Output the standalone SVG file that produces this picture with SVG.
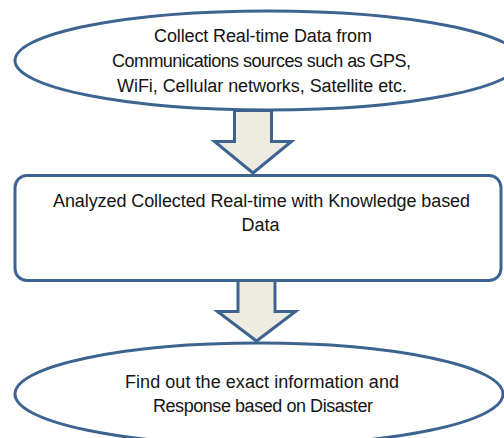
<svg xmlns="http://www.w3.org/2000/svg" width="504" height="438" viewBox="0 0 504 438">
  <style>
    .shape { fill: #ffffff; stroke: #3d6491; stroke-width: 3; }
    .arrow { fill: #eeece1; stroke: #3d6491; stroke-width: 3; stroke-linejoin: miter; }
    .label { font-family: "Liberation Sans", Arial, sans-serif; font-size: 18px; fill: #141414; text-anchor: middle; }
  </style>
  <rect width="504" height="438" fill="#ffffff"/>

  <!-- step 1: data collection -->
  <g id="collect">
    <ellipse class="shape" cx="268" cy="60.5" rx="253" ry="49.5"/>
    <text class="label" x="263" y="42" textLength="218">Collect Real-time Data from</text>
    <text class="label" x="261.5" y="67" textLength="299">Communications sources such as GPS,</text>
    <text class="label" x="262" y="92" textLength="290">WiFi, Cellular networks, Satellite etc.</text>
  </g>

  <!-- step 2: analysis -->
  <g id="analyze">
    <rect class="shape" x="15" y="175.5" width="486" height="105" rx="12" ry="12"/>
    <text class="label" x="261.5" y="207" textLength="417">Analyzed Collected Real-time with Knowledge based</text>
    <text class="label" x="260.5" y="231">Data</text>
  </g>

  <!-- step 3: response -->
  <g id="respond">
    <ellipse class="shape" cx="259" cy="394" rx="244" ry="51"/>
    <text class="label" x="262" y="388" textLength="274">Find out the exact information and</text>
    <text class="label" x="263" y="412" textLength="220">Response based on Disaster</text>
  </g>

  <!-- block arrows between the steps -->
  <g id="connectors">
    <polygon class="arrow" points="234.5,110.5 271.5,110.5 271.5,141.5 291.5,141.5 253,173 214.5,141.5 234.5,141.5"/>
    <polygon class="arrow" points="238,280.5 275,280.5 275,311.5 295.5,311.5 256.5,341 217.5,311.5 238,311.5"/>
  </g>
</svg>
